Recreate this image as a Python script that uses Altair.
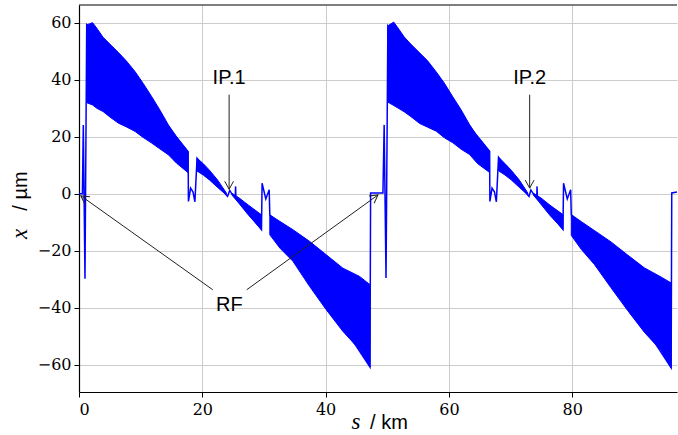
import math
import altair as alt
import pandas as pd

# Plot geometry (pixels) and axis ranges
W, H = 598, 387
S_MIN, S_MAX = 0.0, 97.0
X_MIN, X_MAX = -69.6, 66.3

BLUE = "#0000ff"
INK = "#222222"
DIGITS = "DejaVu Serif"
SERIF = "Liberation Serif"
SANS = "Liberation Sans"

# Thin part of the orbit trace, in drawing order (s in km, x in µm)
trace_s = [0.0, 0.55, 0.7, 0.97, 1.25, 17.7, 17.75, 18.1, 18.5, 18.8, 19.15,
           23.9, 24.1, 24.45, 24.8, 25.35, 25.4, 25.45, 29.6, 29.7, 30.3, 30.85,
           30.95, 47.2, 47.3, 49.3, 49.5, 49.8, 50.1, 66.6, 66.65, 67.0, 67.4,
           67.7, 68.05, 72.8, 73.0, 73.3, 73.7, 74.25, 74.3, 74.35, 78.5, 78.6,
           79.2, 79.75, 79.85, 96.05, 96.15, 97.0]
trace_x = [0.0, 0.0, 24.2, -29.8, 59.3, 14.8, -2.7, 2.0, 0.6, -2.8, 12.5,
           -0.4, -0.9, 1.2, 0.0, -1.0, 2.6, -1.2, -12.6, 3.7, -1.8, 1.4,
           -7.4, -60.8, 0.3, 0.3, 24.2, -29.6, 59.0, 14.9, -2.7, 2.0, 0.6,
           -2.8, 12.8, -0.4, -0.9, 1.3, 0.0, -1.0, 2.6, -1.2, -12.5, 3.7,
           -1.8, 1.4, -7.3, -61.1, 0.3, 0.6]

# Envelopes (upper / lower) of the fast oscillation in each arc
arc1_s = [1.25, 2.2, 2.9, 3.9, 5.0, 6.4, 7.7, 9.1, 10.4, 11.8, 13.1, 14.5, 15.8, 17.7]
arc1_hi = [59.3, 60.1, 58.1, 55.0, 52.6, 49.6, 46.6, 42.9, 38.8, 34.1, 29.5, 24.2, 20.1, 14.8]
arc1_lo = [32.0, 31.2, 30.0, 28.9, 27.0, 24.8, 23.5, 21.9, 19.8, 17.8, 15.8, 13.7, 10.8, 7.4]

arc2_s = [19.15, 20.2, 21.2, 22.5, 23.9]
arc2_hi = [12.5, 10.5, 8.2, 4.8, 0.3]
arc2_lo = [8.0, 6.5, 4.8, 2.2, -0.4]

arc3_s = [24.8, 26.0, 27.5, 29.6]
arc3_hi = [0.2, -1.5, -4.0, -7.4]
arc3_lo = [-0.4, -3.5, -7.5, -12.6]

arc4_s = [30.95, 32.6, 34.7, 37.4, 40.1, 42.8, 45.5, 47.2]
arc4_hi = [-7.4, -9.7, -12.6, -16.7, -21.4, -26.1, -29.0, -31.9]
arc4_lo = [-14.4, -19.1, -23.7, -32.5, -40.7, -48.3, -54.7, -60.8]

arc5_s = [50.1, 51.05, 51.75, 52.75, 53.85, 55.25, 56.55, 57.95, 59.25, 60.65, 61.95, 63.35, 64.65, 66.6]
arc5_hi = [59.0, 60.3, 58.2, 55.1, 52.5, 49.5, 46.7, 42.8, 38.9, 34.0, 29.6, 24.3, 20.0, 14.9]
arc5_lo = [32.2, 31.0, 30.1, 28.8, 27.1, 24.7, 23.4, 22.0, 19.7, 17.9, 15.7, 13.8, 10.6, 7.5]

arc6_s = [68.05, 69.1, 70.1, 71.4, 72.8]
arc6_hi = [12.8, 10.6, 8.3, 4.9, 0.3]
arc6_lo = [8.1, 6.6, 4.9, 2.3, -0.4]

arc7_s = [73.7, 74.9, 76.4, 78.5]
arc7_hi = [0.2, -1.4, -4.0, -7.3]
arc7_lo = [-0.4, -3.6, -7.6, -12.5]

arc8_s = [79.85, 81.5, 83.6, 86.3, 89.0, 91.7, 94.4, 96.05]
arc8_hi = [-7.3, -9.8, -12.9, -16.9, -21.5, -26.0, -29.2, -31.3]
arc8_lo = [-14.6, -19.6, -24.8, -33.0, -41.0, -48.6, -55.0, -61.1]

# Annotation labels and their arrows
label_text = ["IP.1", "IP.2", "RF"]
label_s = [24.35, 73.1, 24.4]
label_x = [40.7, 40.7, -38.9]

arrow_tail_s = [24.35, 73.1, 21.7, 27.2]
arrow_tail_x = [34.8, 34.8, -33.7, -33.7]
arrow_tip_s = [24.35, 73.1, 0.3, 48.5]
arrow_tip_x = [1.6, 2.0, -0.7, -0.4]

# ---------------------------------------------------------------------------
trace = pd.DataFrame({"s": trace_s, "x": trace_x, "i": range(len(trace_s))})

arcs = [(arc1_s, arc1_hi, arc1_lo), (arc2_s, arc2_hi, arc2_lo),
        (arc3_s, arc3_hi, arc3_lo), (arc4_s, arc4_hi, arc4_lo),
        (arc5_s, arc5_hi, arc5_lo), (arc6_s, arc6_hi, arc6_lo),
        (arc7_s, arc7_hi, arc7_lo), (arc8_s, arc8_hi, arc8_lo)]
rows = []
for k, (ss, hi, lo) in enumerate(arcs):
    for a, b, c in zip(ss, hi, lo):
        rows.append({"arc": k, "s": a, "hi": b, "lo": c})
bands = pd.DataFrame(rows)

labels = pd.DataFrame({"label": label_text, "s": label_s, "x": label_x})

px_s = W / (S_MAX - S_MIN)
px_x = H / (X_MAX - X_MIN)


def head_angle(ts, tx, hs, hx):
    dx = (hs - ts) * px_s
    dy = -(hx - tx) * px_x
    return math.degrees(math.atan2(-dx, dy)) % 360


arrows = pd.DataFrame({
    "s": arrow_tail_s, "x": arrow_tail_x,
    "s2": arrow_tip_s, "x2": arrow_tip_x,
    "ang": [head_angle(a, b, c, d) for a, b, c, d in
            zip(arrow_tail_s, arrow_tail_x, arrow_tip_s, arrow_tip_x)],
})

xscale = alt.Scale(domain=[S_MIN, S_MAX], nice=False, zero=False)
yscale = alt.Scale(domain=[X_MIN, X_MAX], nice=False, zero=False)
xaxis = alt.Axis(values=[0, 20, 40, 60, 80], title=None, format="d",
                 labelFont=DIGITS, labelFontSize=16, labelPadding=4)
yaxis = alt.Axis(values=[-60, -40, -20, 0, 20, 40, 60], title=None, format="d",
                 labelFont=DIGITS, labelFontSize=16, labelPadding=3)

X = lambda f: alt.X(f, scale=xscale, axis=xaxis)
Y = lambda f: alt.Y(f, scale=yscale, axis=yaxis)

band_layer = alt.Chart(bands).mark_area(
    color=BLUE, stroke=BLUE, strokeWidth=1, opacity=1
).encode(x=X("s:Q"), y=Y("hi:Q"), y2="lo:Q", detail="arc:N")

line_layer = alt.Chart(trace).mark_line(
    color=BLUE, strokeWidth=1.5, strokeJoin="miter"
).encode(x=X("s:Q"), y=Y("x:Q"), order="i:Q")

arrow_lines = alt.Chart(arrows).mark_rule(color=INK, strokeWidth=1).encode(
    x=X("s:Q"), y=Y("x:Q"), x2="s2:Q", y2="x2:Q"
)

arrow_heads = alt.Chart(arrows).mark_point(
    shape="M-0.55,-1L0,0L0.55,-1", filled=False, size=256,
    strokeWidth=1, color=INK, opacity=1
).encode(x=X("s2:Q"), y=Y("x2:Q"), angle=alt.Angle("ang:Q", scale=None))

label_layer = alt.Chart(labels).mark_text(
    font=SANS, fontSize=20, color="black",
    align="center", baseline="middle"
).encode(x=X("s:Q"), y=Y("x:Q"), text="label:N")

# Frame line along the top of the plot
one = pd.DataFrame({"k": [0]})
top_frame = alt.Chart(one).mark_rule(
    color="black", strokeWidth=1.2
).encode(x=alt.value(0), x2=alt.value(W), y=alt.value(0))

# Axis titles: italic serif symbol followed by upright sans unit
xt_sym = alt.Chart(one).mark_text(
    text="s", font=SERIF, fontStyle="italic", fontSize=23,
    color="black", baseline="middle", align="center"
).encode(x=alt.value(277), y=alt.value(417))
xt_unit = alt.Chart(one).mark_text(
    text="/ km", font=SANS, fontSize=20,
    color="black", baseline="middle", align="center"
).encode(x=alt.value(310), y=alt.value(418))
yt_sym = alt.Chart(one).mark_text(
    text="x", font=SERIF, fontStyle="italic", fontSize=23,
    color="black", baseline="middle", align="center", angle=270
).encode(x=alt.value(-59), y=alt.value(229))
yt_unit = alt.Chart(one).mark_text(
    text="/ µm", font=SANS, fontSize=20,
    color="black", baseline="middle", align="center", angle=270
).encode(x=alt.value(-58), y=alt.value(186))

chart = alt.layer(
    band_layer, line_layer, arrow_lines, arrow_heads, label_layer,
    top_frame, xt_sym, xt_unit, yt_sym, yt_unit
).properties(
    width=W, height=H,
    padding={"left": 79, "top": 5, "right": 1, "bottom": 43},
    autosize=alt.AutoSizeParams(type="none"),
).configure_view(
    stroke=None
).configure_axis(
    labelFont=DIGITS, labelFontSize=16, labelColor="black",
    tickColor="black", tickSize=5, tickWidth=1,
    domainColor="black", domainWidth=1.2,
    grid=True, gridColor="#cccccc", gridWidth=1,
)

chart.save("out.html", embed_options={"renderer": "svg", "actions": False})
